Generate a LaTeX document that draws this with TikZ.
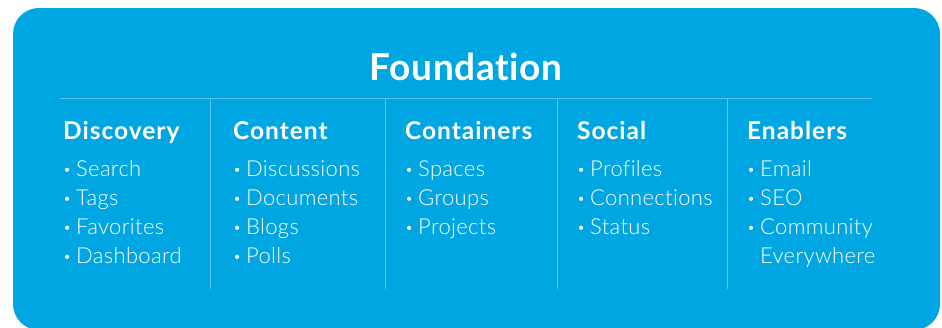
\documentclass[tikz,border=0pt]{standalone}
\usepackage{fontspec}
\setmainfont{Lato}
\newfontfamily\lightfont[LetterSpace=1.5,Ligatures=NoCommon]{Lato Light}
\newfontfamily\headfont[LetterSpace=4,Ligatures=NoCommon]{Lato Bold}
\newfontfamily\titlefont[LetterSpace=1.5,Ligatures=NoCommon]{Lato Bold}
\definecolor{bgblue}{HTML}{00A6E2}
\definecolor{lineblue}{HTML}{5CC6F0}
\begin{document}
\begin{tikzpicture}[x=1pt,y=-1pt,
  title/.style={anchor=base,text=white,font=\titlefont\fontsize{37}{40}\selectfont,inner sep=0pt},
  head/.style={anchor=base west,text=white,font=\headfont\fontsize{24.5}{26}\selectfont,inner sep=0pt},
  item/.style={anchor=base west,text=white,font=\lightfont\fontsize{22}{24}\selectfont,inner sep=0pt},
  divider/.style={draw=lineblue,line width=0.9pt}]
\useasboundingbox (0,0) rectangle (942,327);
\begin{scope}
\clip (0,0) rectangle (942,327);
\fill[bgblue,rounded corners=26pt] (13,8) rectangle (940,330);
\end{scope}
\node[title] (t) at (466,80) {Foundation};
\draw[divider] (60,98) -- (872,98);
\foreach \x in {210,385,557,727} \draw[divider] (\x,98) -- (\x,289);
\newcommand{\bul}[1]{\makebox[13pt][l]{\raisebox{2pt}{\fontsize{14}{14}\selectfont •}}#1}
% Discovery
\node[head] (h1) at (63,139) {Discovery};
\node[item] (a1) at (63,176) {\bul{Search}};
\node[item] (a2) at (63,205) {\bul{Tags}};
\node[item] (a3) at (63,234) {\bul{Favorites}};
\node[item] (a4) at (63,263) {\bul{Dashboard}};
% Content
\node[head] (h2) at (233,139) {Content};
\node[item] (b1) at (233,176) {\bul{Discussions}};
\node[item] (b2) at (233,205) {\bul{Documents}};
\node[item] (b3) at (233,234) {\bul{Blogs}};
\node[item] (b4) at (233,263) {\bul{Polls}};
% Containers
\node[head] (h3) at (405,139) {Containers};
\node[item] (c1) at (405,176) {\bul{Spaces}};
\node[item] (c2) at (405,205) {\bul{Groups}};
\node[item] (c3) at (405,234) {\bul{Projects}};
% Social
\node[head] (h4) at (577,139) {Social};
\node[item] (d1) at (577,176) {\bul{Profiles}};
\node[item] (d2) at (577,205) {\bul{Connections}};
\node[item] (d3) at (577,234) {\bul{Status}};
% Enablers
\node[head] (h5) at (747,139) {Enablers};
\node[item] (e1) at (747,176) {\bul{Email}};
\node[item] (e2) at (747,205) {\bul{SEO}};
\node[item] (e3) at (747,234) {\bul{Community}};
\node[item] (e4) at (747,263) {\hspace*{13pt}Everywhere};
\end{tikzpicture}
\end{document}
